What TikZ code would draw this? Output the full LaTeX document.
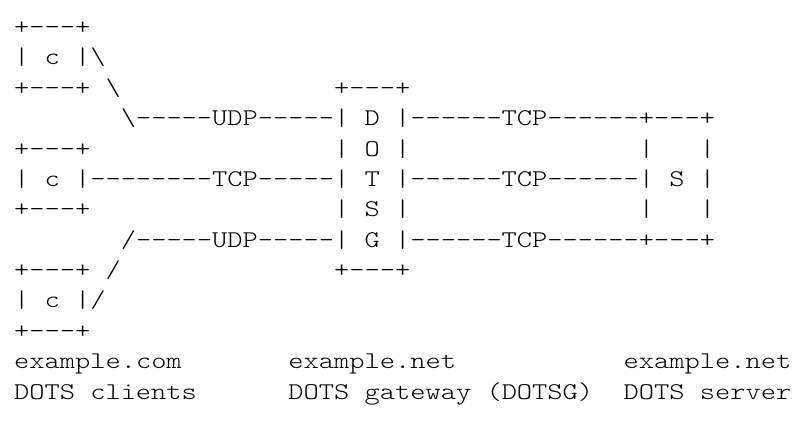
\documentclass[tikz,border=0pt]{standalone}
\usepackage{fontspec}
\setmonofont{lmmonolt10-regular.otf}[FakeStretch=1.2095]

\tikzset{
    asc/.style={anchor=base west,inner sep=0pt,outer sep=0pt,
        font=\ttfamily\fontsize{12pt}{15.2pt}\selectfont}
}

\begin{document}
\begin{tikzpicture}[x=7.62pt,y=-15.185pt]
    \useasboundingbox (-7.05pt,17.3pt) rectangle (398.95pt,-193.7pt);

    %clients
    \node[asc] (clAtop) at (0,0) {+---+};
    \node[asc] (clAmid) at (0,1) {| c |\textbackslash};
    \node[asc] (clAbot) at (0,2) {+---+};
    \node[asc] (clAlnk) at (6,2) {\textbackslash};
    \node[asc] (clBtop) at (0,4) {+---+};
    \node[asc] (clBmid) at (0,5) {| c |--------TCP-----| T |------TCP------| S |};
    \node[asc] (clBbot) at (0,6) {+---+};
    \node[asc] (clClnk) at (6,8) {/};
    \node[asc] (clCtop) at (0,8) {+---+};
    \node[asc] (clCmid) at (0,9) {| c |/};
    \node[asc] (clCbot) at (0,10) {+---+};

    %gateway and server
    \node[asc] (gwtop) at (21,2) {+---+};
    \node[asc] (gwD) at (7,3) {\textbackslash-----UDP-----| D |------TCP------+---+};
    \node[asc] (gwO) at (21,4) {| O |};
    \node[asc] (svA) at (41,4) {|};
    \node[asc] (svB) at (45,4) {|};
    \node[asc] (gwS) at (21,6) {| S |};
    \node[asc] (svC) at (41,6) {|};
    \node[asc] (svD) at (45,6) {|};
    \node[asc] (gwG) at (7,7) {/-----UDP-----| G |------TCP------+---+};
    \node[asc] (gwbot) at (21,8) {+---+};

    %labels
    \node[asc] (domcl) at (0,11) {example.com};
    \node[asc] (domgw) at (18,11) {example.net};
    \node[asc] (domsv) at (40,11) {example.net};
    \node[asc] (namecl) at (0,12) {DOTS clients};
    \node[asc] (namegw) at (18,12) {DOTS gateway (DOTSG)};
    \node[asc] (namesv) at (40,12) {DOTS server};
\end{tikzpicture}
\end{document}
